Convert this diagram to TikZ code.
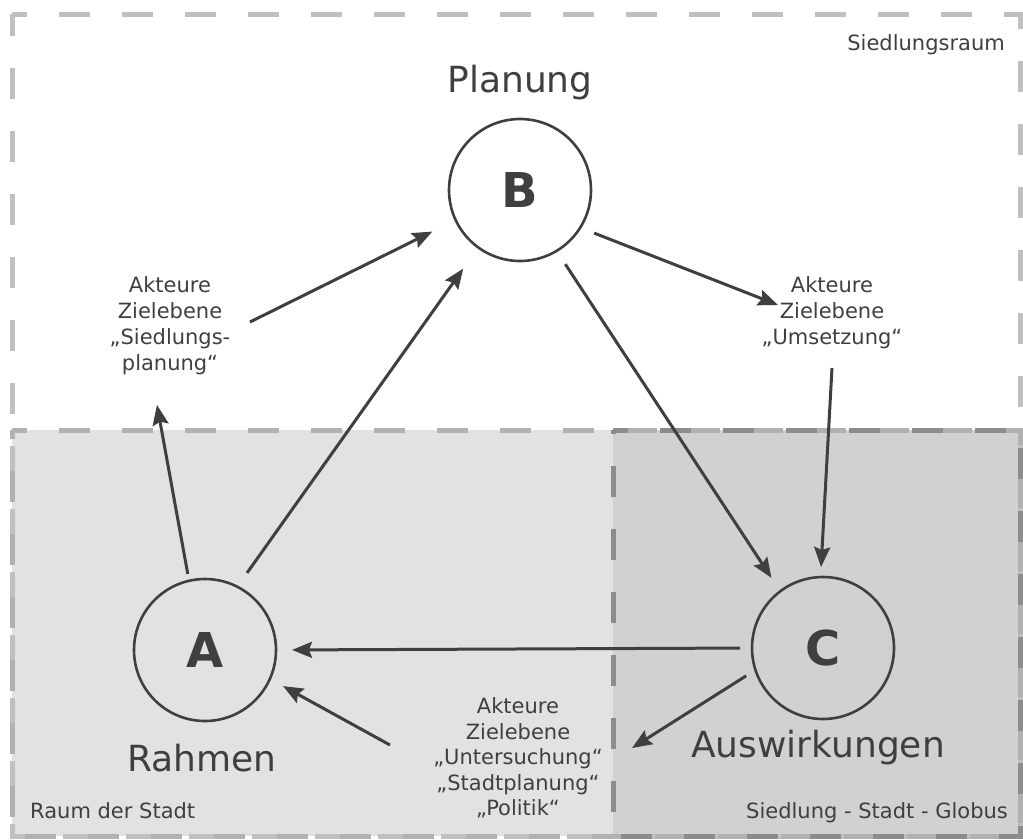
\documentclass[tikz,border=0pt]{standalone}
\usepackage{fontspec}
\setmainfont{DejaVu Sans}
\usetikzlibrary{arrows.meta}
\definecolor{ink}{HTML}{3F3F40}
\definecolor{outerline}{HTML}{BFC0C1}
\definecolor{cityfill}{HTML}{E1E2E4}
\definecolor{cityline}{HTML}{B0B1B3}
\definecolor{globefill}{HTML}{D0D1D3}
\definecolor{globeline}{HTML}{8B8C8E}
\begin{document}
\begin{tikzpicture}[x=1pt,y=-1pt,
  zone/.style={line width=5pt, dash pattern=on 31pt off 32pt, dash phase=16pt},
  hub/.style={circle, draw=ink, line width=2.6pt, minimum size=142pt, inner sep=0pt,
    outer sep=0pt, text=ink, font=\fontsize{48}{48}\selectfont\bfseries},
  conn/.style={draw=ink, line width=3pt, -{Stealth[length=20pt,width=16pt,inset=3pt]}},
  note/.style={align=center, text=ink, inner sep=0pt, font=\fontsize{21}{26}\selectfont},
  heading/.style={text=ink, inner sep=0pt, anchor=base, font=\fontsize{36}{36}\selectfont},
  zonename/.style={text=ink, inner sep=0pt, font=\fontsize{21}{24}\selectfont}]
\useasboundingbox (0,0) rectangle (1023,839);

% background zones
\fill[cityfill] (12,430) rectangle (1020,836);
\fill[globefill] (613,430) rectangle (1020,836);
\draw[zone, outerline] (12,14) -- (1020,14) -- (1020,836) -- (12,836) -- cycle;
\draw[zone, cityline] (12,430) -- (1020,430) -- (1020,836) -- (12,836) -- cycle;
\draw[zone, globeline] (613,430) -- (1020,430) -- (1020,836) -- (613,836) -- cycle;

\node[zonename, anchor=base east] (zS) at (1005,50) {Siedlungsraum};
\node[zonename, anchor=base west] (zR) at (30,818) {Raum der Stadt};
\node[zonename, anchor=base east] (zG) at (1008,818) {Siedlung - Stadt - Globus};

% the three hubs
\node[hub] (B) at (520,190) {B};
\node[hub] (A) at (205,650) {A};
\node[hub] (C) at (823,648) {C};

\node[heading] (tB) at (520,92) {Planung};
\node[heading] (tA) at (202,771) {Rahmen};
\node[heading] (tC) at (818,757) {Auswirkungen};

% actor labels
\node[note] (lL) at (170,326) {Akteure\\Zielebene\\„Siedlungs-\\planung“};
\node[note] (lR) at (832,313) {Akteure\\Zielebene\\„Umsetzung“};
\node[note, font=\fontsize{21}{25.5}\selectfont] (lB) at (518,758)
  {Akteure\\Zielebene\\„Untersuchung“\\„Stadtplanung“\\„Politik“};

\coordinate (lLin)  at (157,405);
\coordinate (lLout) at (250,322);
\coordinate (lRin)  at (778,305);
\coordinate (lRout) at (832,368);
\coordinate (lBin)  at (632,748);
\coordinate (lBout) at (390,745);

% connectors
\draw[conn, shorten <=17pt, shorten >=26pt] (A.63) -- (B.234);
\draw[conn, shorten <=7pt] (A.103) -- (lLin);
\draw[conn, shorten >=26pt] (lLout) -- (B.205);
\draw[conn, shorten <=15pt] (B.-32) -- (lRin);
\draw[conn, shorten <=16pt, shorten >=16pt] (B.-59) -- (C.127);
\draw[conn, shorten >=10pt] (lRout) -- (C.92);
\draw[conn, shorten <=12pt, shorten >=16pt] (C.180) -- (A.0);
\draw[conn, shorten <=11pt] (C.198) -- (lBin);
\draw[conn, shorten >=15pt] (lBout) -- (A.-24);
\end{tikzpicture}
\end{document}
